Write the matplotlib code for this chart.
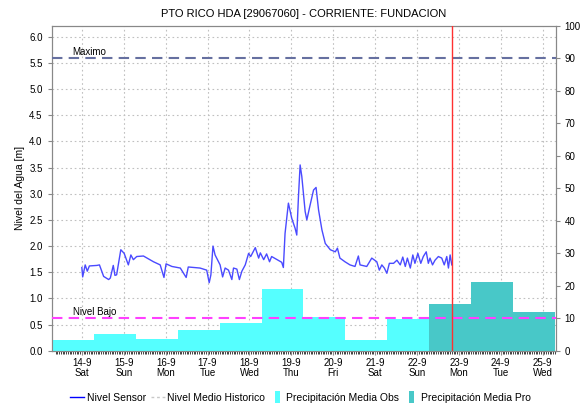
import numpy as np
import matplotlib
matplotlib.use("Agg")
import matplotlib.pyplot as plt
from matplotlib.lines import Line2D

plt.rcParams["font.family"] = ["Liberation Sans", "DejaVu Sans"]

# Nivel del sensor (dia de septiembre con fraccion, metros)
dias_nivel = [
    14.00, 14.02, 14.08, 14.13, 14.18, 14.36, 14.42, 14.52, 14.64, 14.68,
    14.75, 14.79, 14.83, 14.93, 15.01, 15.11, 15.17, 15.23, 15.31, 15.47,
    15.71, 15.87, 15.96, 16.01, 16.15, 16.35, 16.49, 16.54, 16.82, 16.98,
    17.04, 17.08, 17.13, 17.18, 17.30, 17.36, 17.42, 17.50, 17.58, 17.62,
    17.70, 17.76, 17.82, 17.90, 17.98, 18.03, 18.14, 18.22, 18.26, 18.34,
    18.41, 18.48, 18.53, 18.77, 18.81, 18.85, 18.93, 19.01, 19.09, 19.13,
    19.17, 19.21, 19.25, 19.33, 19.37, 19.45, 19.53, 19.59, 19.65, 19.73,
    19.81, 19.93, 20.05, 20.10, 20.16, 20.28, 20.40, 20.52, 20.60, 20.64,
    20.80, 20.92, 21.04, 21.10, 21.16, 21.22, 21.28, 21.34, 21.44, 21.52,
    21.60, 21.66, 21.72, 21.77, 21.84, 21.90, 21.95, 22.02, 22.09, 22.15,
    22.22, 22.27, 22.31, 22.37, 22.43, 22.51, 22.59, 22.65, 22.71, 22.75,
    22.79, 22.83,
]
nivel = [
    1.59, 1.41, 1.64, 1.52, 1.62, 1.63, 1.64, 1.42, 1.36, 1.39,
    1.63, 1.44, 1.45, 1.93, 1.86, 1.64, 1.83, 1.74, 1.80, 1.81,
    1.70, 1.64, 1.40, 1.66, 1.61, 1.58, 1.40, 1.60, 1.58, 1.54,
    1.30, 1.45, 2.00, 1.83, 1.64, 1.41, 1.58, 1.54, 1.36, 1.58,
    1.56, 1.36, 1.52, 1.64, 1.86, 1.80, 1.97, 1.77, 1.87, 1.74,
    1.85, 1.70, 1.80, 1.69, 1.59, 2.24, 2.82, 2.53, 2.34, 2.21,
    2.94, 3.55, 3.33, 2.66, 2.50, 2.79, 3.07, 3.12, 2.69, 2.31,
    2.05, 1.93, 1.89, 1.96, 1.77, 1.70, 1.64, 1.61, 1.81, 1.64,
    1.61, 1.77, 1.70, 1.54, 1.64, 1.58, 1.48, 1.67, 1.67, 1.73,
    1.64, 1.79, 1.61, 1.77, 1.58, 1.83, 1.67, 1.86, 1.67, 1.80,
    1.89, 1.67, 1.77, 1.64, 1.73, 1.80, 1.77, 1.64, 1.80, 1.58,
    1.83, 1.64,
]

# Precipitacion diaria (mm), acumulada hasta las 7:00 del dia indicado
dias_obs = np.arange(14, 23)
precip_obs = [3.4, 5.1, 3.6, 6.5, 8.6, 18.9, 10.4, 3.4, 9.7]
dias_pro = np.arange(23, 26)
precip_pro = [14.5, 21.2, 12.0]

nivel_maximo = 5.6
nivel_bajo = 0.62
ahora = 22.84

dias_ticks = np.arange(14, 26)
etiquetas = ["14-9\nSat", "15-9\nSun", "16-9\nMon", "17-9\nTue", "18-9\nWed",
             "19-9\nThu", "20-9\nFri", "21-9\nSat", "22-9\nSun", "23-9\nMon",
             "24-9\nTue", "25-9\nWed"]

fig = plt.figure(figsize=(5.82, 4.05), dpi=100)
ax = fig.add_axes([0.0888, 0.134, 0.866, 0.8025])
ax2 = ax.twinx()
ax3 = ax.twinx()

gris = "#888888"

# eje izquierdo con la grilla
ax.set_xlim(13.28, 25.31)
ax.set_ylim(0, 6.21)
ax.set_yticks(np.arange(0, 6.01, 0.5))
ax.set_yticklabels([f"{v:.1f}" for v in np.arange(0, 6.01, 0.5)])
ax.set_xticks(dias_ticks)
ax.set_xticklabels(etiquetas, linespacing=1.05)
ax.set_xticks(np.arange(13.375, 25.31, 1 / 24), minor=True)
ax.tick_params(axis="x", which="minor", length=2, color="#222222")
ax.tick_params(axis="x", which="major", pad=2)
ax.grid(True, color="#c0c0c0", linestyle=(0, (1.5, 2.5)), linewidth=0.8)
ax.set_ylabel("Nivel del Agua [m]", fontsize=7.5, labelpad=3)
ax.set_title("PTO RICO HDA [29067060] - CORRIENTE: FUNDACION", fontsize=8, pad=6)
ax.tick_params(labelsize=7, color=gris, length=3)

# precipitacion en el eje derecho
ax2.bar(dias_obs - 0.71, precip_obs, width=1.0, align="edge", color="#55ffff", linewidth=0)
ax2.bar(dias_pro - 0.71, precip_pro, width=1.0, align="edge", color="#48c8c8", linewidth=0)
ax2.set_ylim(0, 100)
ax2.set_yticks(np.arange(0, 101, 10))
ax2.tick_params(labelsize=7, color=gris, length=3)

# niveles sobre las barras
ax3.set_ylim(ax.get_ylim())
ax3.axis("off")
ax3.plot(dias_nivel, nivel, color="#4a4aff", linewidth=1.0)
ax3.axhline(nivel_maximo, color="#6670a0", linestyle=(0, (5, 3)), linewidth=1.5)
ax3.axhline(nivel_bajo, color="#ff40ff", linestyle=(0, (5, 3)), linewidth=1.5)
ax3.axvline(ahora, color="#ff3030", linewidth=1.0)
ax3.text(13.76, nivel_maximo + 0.02, "Maximo", fontsize=7, va="bottom")
ax3.text(13.78, nivel_bajo + 0.02, "Nivel Bajo", fontsize=7, va="bottom")

for a in (ax, ax2):
    for s in a.spines.values():
        s.set_color(gris)

# marcador rectangular angosto para las barras en la leyenda
rect = [(-0.45, -1), (0.45, -1), (0.45, 1), (-0.45, 1), (-0.45, -1)]
handles = [
    Line2D([], [], color="blue", linewidth=1),
    Line2D([], [], color="#c8c8c8", linestyle=(0, (2, 2)), linewidth=1),
    Line2D([], [], linestyle="none", marker=rect, markersize=8,
           markerfacecolor="#55ffff", markeredgewidth=0),
    Line2D([], [], linestyle="none", marker=rect, markersize=8,
           markerfacecolor="#48c8c8", markeredgewidth=0),
]
labels = ["Nivel Sensor", "Nivel Medio Historico", "Precipitación Media Obs",
          "Precipitación Media Pro"]
fig.legend(handles, labels, loc="lower left", bbox_to_anchor=(0.105, -0.018), ncol=4,
           frameon=False, fontsize=7.5, handlelength=1.3, handletextpad=0.25,
           columnspacing=0.5)

fig.savefig("out.png", dpi=100)
